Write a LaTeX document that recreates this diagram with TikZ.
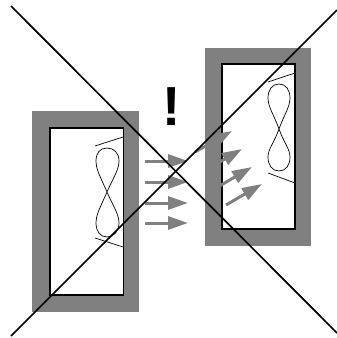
\documentclass[tikz,border=0pt]{standalone}
\usepackage{fontspec}
\setmainfont{Liberation Sans}
\usetikzlibrary{arrows.meta}
\definecolor{wallgray}{gray}{0.5}
\definecolor{flowgray}{gray}{0.5}
\tikzset{
  wall/.style={fill=wallgray,draw=none},
  room/.style={fill=white,draw=black,line width=1.6pt},
  flow/.style={draw=flowgray,line width=3pt,-{Triangle[length=20pt,width=13pt,fill=flowgray]}},
  fan/.style={draw=black,line width=0.7pt},
  cross/.style={draw=black,line width=1.7pt},
}
\begin{document}
\begin{tikzpicture}[x=1pt,y=-1pt]
\useasboundingbox (0,0) rectangle (337,338);
% left room
\fill[wall] (32,111) rectangle (139,312);
\draw[room] (50,128) rectangle (123.5,295);
\draw[fan] (107,192) .. controls (113,178) and (119,170) .. (119,161) .. controls (119,153) and (114,148) .. (107,148) .. controls (100,148) and (96,153) .. (96,161) .. controls (96,170) and (101,178) .. (107,192) .. controls (113,206) and (119,214) .. (119,223) .. controls (119,231) and (114,237) .. (107,237) .. controls (100,237) and (96,231) .. (96,223) .. controls (96,214) and (101,206) .. (107,192) -- cycle;
\draw[fan] (95,146) -- (123,137);
\draw[fan] (95,238) -- (123,247);
% right room
\fill[wall] (205,48) rectangle (311,246);
\draw[room] (222,64) rectangle (295,229);
\draw[fan] (279,129) .. controls (284,115) and (290,107) .. (290,98) .. controls (290,90) and (286,84) .. (279,84) .. controls (272,84) and (268,90) .. (268,98) .. controls (268,107) and (274,115) .. (279,129) .. controls (284,143) and (290,149) .. (290,157) .. controls (290,165) and (286,171) .. (279,171) .. controls (272,171) and (268,165) .. (268,157) .. controls (268,149) and (274,143) .. (279,129) -- cycle;
\draw[fan] (268,82) -- (295,73);
\draw[fan] (268,173) -- (295,183);
% arrows
\coordinate (la1) at (145,161); \coordinate (lb1) at (188,161);
\coordinate (la2) at (145,182); \coordinate (lb2) at (188,182);
\coordinate (la3) at (145,203); \coordinate (lb3) at (188,203);
\coordinate (la4) at (145,223); \coordinate (lb4) at (188,223);
\coordinate (ra1) at (195,152); \coordinate (rb1) at (232,131);
\coordinate (ra2) at (206,170); \coordinate (rb2) at (242,149);
\coordinate (ra3) at (216,188); \coordinate (rb3) at (252,167);
\coordinate (ra4) at (226,205); \coordinate (rb4) at (262,184);
\foreach \n in {1,2,3,4} {
  \draw[flow] (la\n) -- (lb\n);
  \draw[flow] (ra\n) -- (rb\n);
}
% exclamation mark
\node[inner sep=0pt,anchor=center,font=\fontsize{55}{55}\selectfont\bfseries] (warn) at (171.5,107) {!};
% crossing-out
\coordinate (c1) at (11,6); \coordinate (c2) at (337,333);
\coordinate (c3) at (337,10); \coordinate (c4) at (11,336);
\draw[cross] (c1) -- (c2);
\draw[cross] (c3) -- (c4);
\end{tikzpicture}
\end{document}
